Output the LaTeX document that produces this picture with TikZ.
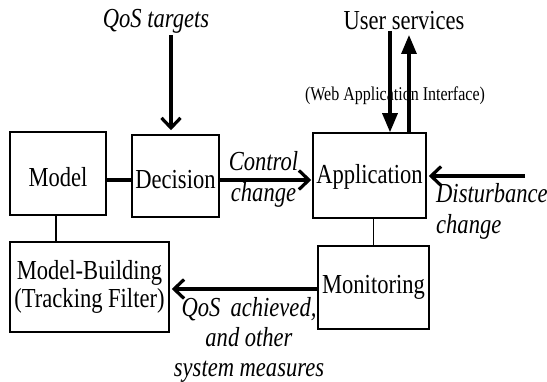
\documentclass[tikz,border=0pt]{standalone}
\usepackage{fontspec}
\setmainfont{Liberation Serif}[FakeStretch=0.82]
\usetikzlibrary{arrows.meta}
\begin{document}
\begin{tikzpicture}[x=1pt,y=-1pt,
  box/.style={draw,line width=1.5pt,inner sep=0pt,align=center,font=\fontsize{27.5}{28}\selectfont},
  lbl/.style={inner sep=0pt,align=center,font=\fontsize{27.5}{31}\selectfont\itshape},
  thickline/.style={line width=3.2pt},
  thinline/.style={line width=1.5pt},
  openarrow/.style={line width=3.2pt,-{Straight Barb[length=10pt,width=19pt,line width=3.2pt]}},
  filledarrow/.style={line width=3.2pt,-{Triangle[length=19pt,width=15pt]}}
]
\useasboundingbox (0,0) rectangle (547,382);
% boxes
\node[box,minimum width=96pt,minimum height=83pt,text height=26pt] (model) at (58,173.5) {Model};
\node[box,minimum width=87pt,minimum height=82pt,text height=26pt] (decision) at (175.5,176) {Decision};
\node[box,minimum width=113pt,minimum height=85pt,text height=22pt] (app) at (369.5,175.5) {Application};
\node[box,minimum width=159pt,minimum height=90pt] (mb) at (89.5,287) {Model-Building\\(Tracking Filter)};
\node[box,minimum width=111pt,minimum height=83pt] (mon) at (373.5,287.5) {Monitoring};
% labels
\node[lbl] (qos) at (156,21) {QoS targets};
\node[inner sep=0pt,font=\fontsize{27.5}{31}\selectfont] (user) at (404,21) {User services};
\node[inner sep=0pt,font=\fontsize{19.5}{22}\selectfont] (web) at (395,96) {(Web Application Interface)};
\node[lbl] (ctrl) at (263.5,179) {Control\\change};
\node[lbl,align=left,anchor=west] (dist) at (436,211.5) {Disturbance\\change};
\node[lbl,font=\fontsize{27.5}{30}\selectfont\itshape] (meas) at (249,340) {QoS\, achieved,\\and other\\system measures};
% coordinates
\coordinate (dsrc) at (525,176);
\coordinate (qtop) at (171,35);
\coordinate (utop1) at (390,31);
\coordinate (utop2) at (409,35);
% connectors
\draw[thickline] ([yshift=-6.5pt]model.east) -- ([yshift=-6.5pt]model.east -| decision.west);
\draw[openarrow] ([yshift=-4pt]decision.east) -- ([yshift=-4pt,xshift=-1pt]decision.east -| app.west);
\draw[openarrow] (dsrc) -- ([xshift=2pt]dsrc -| app.east);
\draw[thinline] (mon.north) -- (mon.north |- app.south);
\draw[thinline] ([xshift=-2pt]model.south) -- ([xshift=-2pt]model.south |- mb.north);
\draw[openarrow] ([yshift=-1.5pt]mon.west) -- ([yshift=-1.5pt,xshift=2pt]mon.west -| mb.east);
\draw[openarrow] (qtop) -- ([yshift=4pt]qtop |- decision.north);
\draw[filledarrow] (utop1) -- (utop1 |- app.north);
\draw[filledarrow] (utop2 |- app.north) -- (utop2);
\end{tikzpicture}
\end{document}
